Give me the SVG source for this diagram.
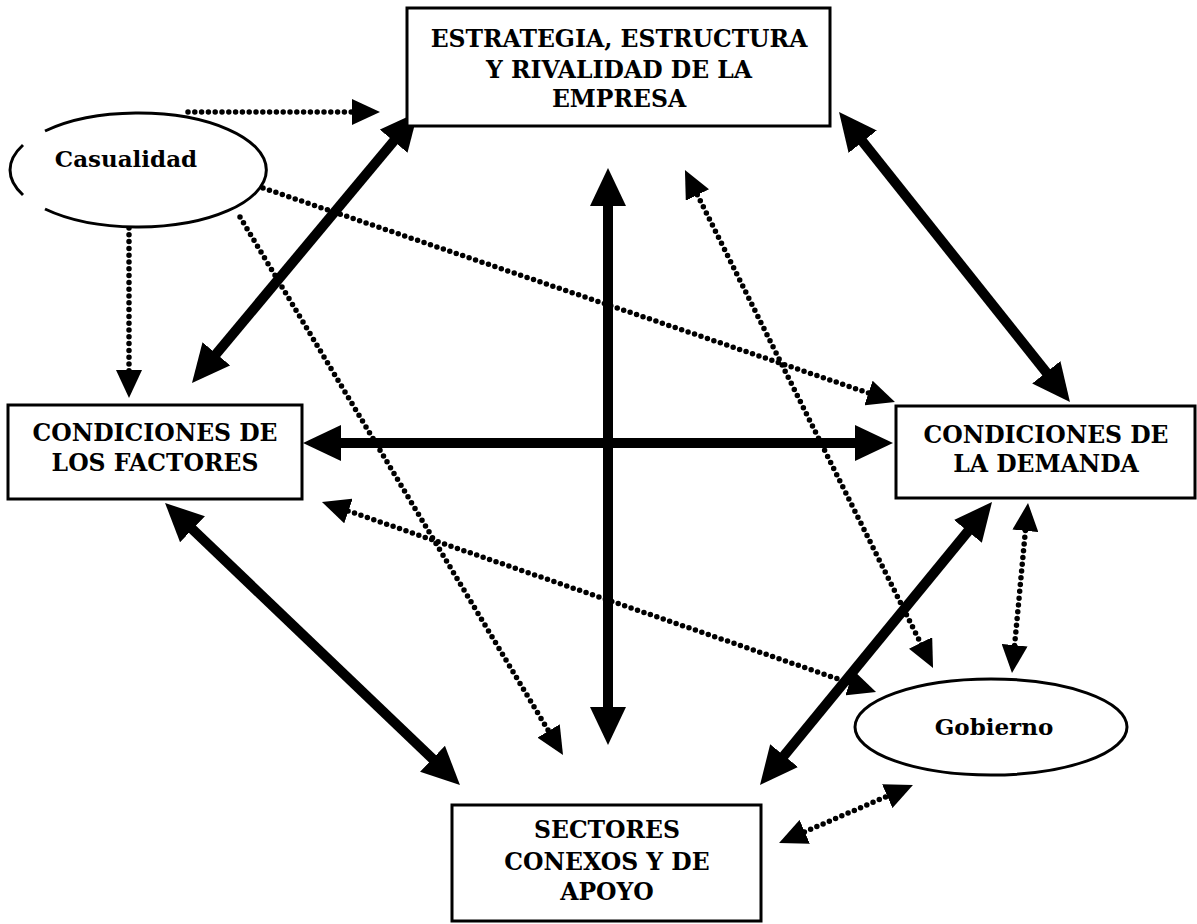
<svg xmlns="http://www.w3.org/2000/svg" width="1197" height="924" viewBox="0 0 1197 924">
  <style>
    .box { fill: #fff; stroke: #000; stroke-width: 3; }
    .oval { fill: #fff; stroke: #000; stroke-width: 3; }
    .label { font-family: "DejaVu Serif", "Liberation Serif", serif; font-weight: bold; font-size: 23.5px; fill: #000; text-anchor: middle; }
    .olabel { font-family: "DejaVu Serif", "Liberation Serif", serif; font-weight: bold; font-size: 23px; fill: #000; text-anchor: middle; }
    .thick { stroke: #000; stroke-width: 10; fill: none; }
    .dotted { stroke: #000; stroke-width: 5.5; fill: none; stroke-linecap: round; stroke-dasharray: 0 6.8; }
  </style>
  <defs>
    <marker id="bigHead" viewBox="0 0 38 36" refX="18" refY="18" markerWidth="38" markerHeight="36" markerUnits="userSpaceOnUse" orient="auto-start-reverse">
      <path d="M0,0 L38,18 L0,36 Z" fill="#000"/>
    </marker>
    <marker id="smallHead" viewBox="0 0 28 26" refX="14" refY="13" markerWidth="28" markerHeight="26" markerUnits="userSpaceOnUse" orient="auto-start-reverse">
      <path d="M0,0 L28,13 L0,26 Z" fill="#000"/>
    </marker>
  </defs>
  <rect width="1197" height="924" fill="#fff"/>

  <!-- connectors -->
  <g id="connectors">
    <!-- solid two-way links between the four determinants -->
    <line class="thick" x1="405.2" y1="127.4" x2="204.8" y2="367.6" marker-start="url(#bigHead)" marker-end="url(#bigHead)"/>
    <line class="thick" x1="608" y1="188" x2="608" y2="725" marker-start="url(#bigHead)" marker-end="url(#bigHead)"/>
    <line class="thick" x1="323" y1="443" x2="873" y2="443" marker-start="url(#bigHead)" marker-end="url(#bigHead)"/>
    <line class="thick" x1="851.5" y1="127.6" x2="1057.5" y2="386.4" marker-start="url(#bigHead)" marker-end="url(#bigHead)"/>
    <line class="thick" x1="179.5" y1="516.8" x2="445.5" y2="771.2" marker-start="url(#bigHead)" marker-end="url(#bigHead)"/>
    <line class="thick" x1="979.3" y1="517.5" x2="772.7" y2="769.5" marker-start="url(#bigHead)" marker-end="url(#bigHead)"/>

    <!-- dotted influences of chance -->
    <line class="dotted" x1="188" y1="112" x2="366" y2="112" marker-end="url(#smallHead)"/>
    <line class="dotted" x1="129" y1="228" x2="129" y2="384" marker-end="url(#smallHead)"/>
    <line class="dotted" x1="263" y1="188" x2="881.7" y2="397.5" marker-end="url(#smallHead)"/>
    <line class="dotted" x1="240" y1="217" x2="555.8" y2="743" marker-end="url(#smallHead)"/>

    <!-- dotted two-way links of government -->
    <line class="dotted" x1="335.2" y1="506.5" x2="862.8" y2="687.5" marker-start="url(#smallHead)" marker-end="url(#smallHead)"/>
    <line class="dotted" x1="691.2" y1="182.5" x2="926.8" y2="655.5" marker-start="url(#smallHead)" marker-end="url(#smallHead)"/>
    <line class="dotted" x1="1026.7" y1="516.9" x2="1013.3" y2="659.1" marker-start="url(#smallHead)" marker-end="url(#smallHead)"/>
    <line class="dotted" x1="791.9" y1="837.4" x2="900.1" y2="790.6" marker-start="url(#smallHead)" marker-end="url(#smallHead)"/>
  </g>

  <!-- nodes -->
  <g id="estrategia">
    <rect class="box" x="407" y="8" width="423" height="118"/>
    <text class="label" x="619" y="47">ESTRATEGIA, ESTRUCTURA</text>
    <text class="label" x="619" y="78">Y RIVALIDAD DE LA</text>
    <text class="label" x="619" y="107">EMPRESA</text>
  </g>

  <g id="factores">
    <rect class="box" x="8" y="405" width="294" height="94"/>
    <text class="label" x="155" y="441">CONDICIONES DE</text>
    <text class="label" x="155" y="471">LOS FACTORES</text>
  </g>

  <g id="demanda">
    <rect class="box" x="896" y="406" width="299" height="92"/>
    <text class="label" x="1046" y="443">CONDICIONES DE</text>
    <text class="label" x="1046" y="472">LA DEMANDA</text>
  </g>

  <g id="sectores">
    <rect class="box" x="452" y="805" width="309" height="116"/>
    <text class="label" x="607" y="838">SECTORES</text>
    <text class="label" x="607" y="870">CONEXOS Y DE</text>
    <text class="label" x="607" y="900">APOYO</text>
  </g>

  <g id="casualidad">
    <!-- ellipse drawn with a small open gap on its left side -->
    <path class="oval" fill="none" d="M45,131 A128,57 0 1 1 45,209"/>
    <path class="oval" fill="none" d="M23,145 A128,57 0 0 0 23,195"/>
    <text class="olabel" x="126" y="167">Casualidad</text>
  </g>

  <g id="gobierno">
    <ellipse class="oval" cx="991" cy="727" rx="136" ry="48"/>
    <text class="olabel" x="994" y="735">Gobierno</text>
  </g>
</svg>
